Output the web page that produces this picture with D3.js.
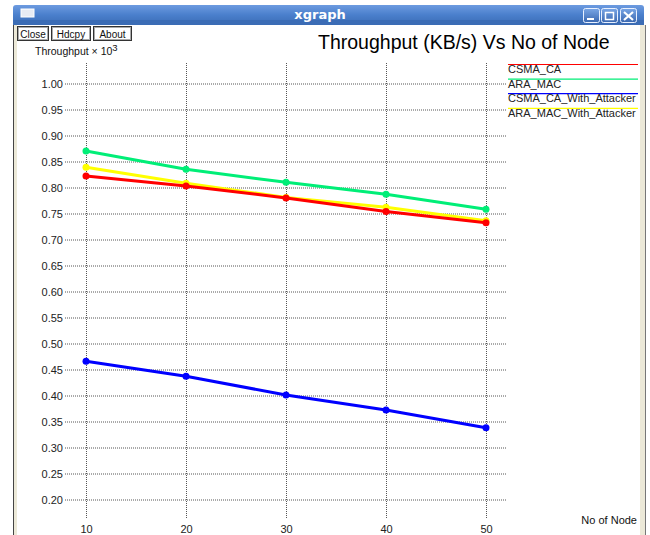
<!DOCTYPE html>
<html><head><meta charset="utf-8">
<script src="https://cdn.jsdelivr.net/npm/d3@7"></script>
<style>
html,body{margin:0;padding:0;background:#fff;}
svg{display:block;font-family:"Liberation Sans",Arial,sans-serif;}
</style></head>
<body>
<svg id="c" width="650" height="535"></svg>
<script>
// ---- data ----
const nodes = [10, 20, 30, 40, 50];
const seriesNames = ["CSMA_CA", "ARA_MAC", "CSMA_CA_With_Attacker", "ARA_MAC_With_Attacker"];
const seriesColors = ["#ff0000", "#00ee77", "#0000ff", "#ffff00"];
const csmaCa = [0.822, 0.803, 0.780, 0.754, 0.732];
const araMac = [0.870, 0.835, 0.810, 0.787, 0.758];
const csmaCaAttacker = [0.466, 0.437, 0.401, 0.372, 0.338];
const araMacAttacker = [0.839, 0.808, 0.781, 0.762, 0.736];
const yTicks = [0.20,0.25,0.30,0.35,0.40,0.45,0.50,0.55,0.60,0.65,0.70,0.75,0.80,0.85,0.90,0.95,1.00];
const xTicks = [10, 20, 30, 40, 50];
const seriesValues = [csmaCa, araMac, csmaCaAttacker, araMacAttacker];
const drawOrder = [1, 3, 0, 2];

const svg = d3.select("#c");

// ---- window chrome ----
const defs = svg.append("defs");
const g1 = defs.append("linearGradient").attr("id","tb").attr("x1",0).attr("y1",0).attr("x2",0).attr("y2",1);
g1.append("stop").attr("offset","0%").attr("stop-color","#6d9be0");
g1.append("stop").attr("offset","50%").attr("stop-color","#4a7fcc");
g1.append("stop").attr("offset","100%").attr("stop-color","#3b6cb5");
const g2 = defs.append("linearGradient").attr("id","bt").attr("x1",0).attr("y1",0).attr("x2",0).attr("y2",1);
g2.append("stop").attr("offset","0%").attr("stop-color","#7aa6e6");
g2.append("stop").attr("offset","100%").attr("stop-color","#3a68b0");

svg.append("rect").attr("x",13).attr("y",5).attr("width",631).attr("height",20).attr("rx",3).attr("fill","url(#tb)");
svg.append("rect").attr("x",13).attr("y",20).attr("width",631).attr("height",5).attr("fill","#3b6cb5");
// left border
svg.append("rect").attr("x",13).attr("y",25).attr("width",4).attr("height",510).attr("fill","#ece9d8");
svg.append("line").attr("x1",13.5).attr("x2",13.5).attr("y1",25).attr("y2",535).attr("stroke","#444");
// right border
svg.append("rect").attr("x",640).attr("y",25).attr("width",5).attr("height",510).attr("fill","#ece9d8");
svg.append("line").attr("x1",645.5).attr("x2",645.5).attr("y1",25).attr("y2",535).attr("stroke","#777");
// icon
svg.append("rect").attr("x",21).attr("y",9).attr("width",13).attr("height",8).attr("fill","#e8ecf4").attr("stroke","#ffffff").attr("stroke-width",1);
// title text
svg.append("text").attr("x",320).attr("y",19).attr("text-anchor","middle").attr("fill","#fff")
  .attr("font-weight","bold").attr("font-size",13).attr("font-family","'DejaVu Sans',sans-serif").text("xgraph");
// window buttons
const wb = [583, 601, 620];
wb.forEach((x,i)=>{
  svg.append("rect").attr("x",x+0.5).attr("y",8.5).attr("width",16).attr("height",14).attr("rx",2)
    .attr("fill","url(#bt)").attr("stroke","#e8f0ff").attr("stroke-width",1);
});
svg.append("line").attr("x1",587).attr("x2",594).attr("y1",19).attr("y2",19).attr("stroke","#fff").attr("stroke-width",2);
svg.append("rect").attr("x",605.5).attr("y",12.5).attr("width",8).attr("height",7).attr("fill","none").attr("stroke","#fff").attr("stroke-width",1.5);
svg.append("path").attr("d","M624,12 L633,20 M633,12 L624,20").attr("stroke","#fff").attr("stroke-width",2.2);

// app buttons
const btns = [["Close",17,31],["Hdcpy",51,39],["About",93,38]];
btns.forEach(([t,x,w])=>{
  svg.append("rect").attr("x",x+0.5).attr("y",26.5).attr("width",w).attr("height",14).attr("fill","#fff").attr("stroke","#333");
  svg.append("rect").attr("x",x+1.5).attr("y",27.5).attr("width",w-2).attr("height",12).attr("fill","none").attr("stroke","#aaa");
  svg.append("text").attr("x",x+w/2+0.5).attr("y",37.5).attr("text-anchor","middle").attr("font-size",10).attr("fill","#111").text(t);
});

// ---- chart ----
const x = d3.scaleLinear().domain([10,50]).range([86,486]);
const y = d3.scaleLinear().domain([0.20,1.00]).range([499.5,83.5]);

const gridStroke = "#555";
const ya = svg.append("g").attr("transform","translate(65,0)")
  .call(d3.axisLeft(y).tickValues(yTicks).tickFormat(d3.format(".2f")).tickSizeInner(-442).tickSizeOuter(0).tickPadding(2));
ya.select(".domain").remove();
ya.selectAll("line").attr("stroke",gridStroke).attr("stroke-dasharray","1,1");
ya.selectAll("text").attr("font-size",11).attr("fill","#222").attr("font-family","'Liberation Sans',Arial,sans-serif");

const xa = svg.append("g").attr("transform","translate(0,518)")
  .call(d3.axisBottom(x).tickValues(xTicks).tickFormat(d3.format("d")).tickSizeInner(-455).tickSizeOuter(0).tickPadding(7));
xa.select(".domain").remove();
xa.selectAll("line").attr("stroke",gridStroke).attr("stroke-dasharray","1,1");
xa.selectAll("text").attr("font-size",11).attr("fill","#222").attr("font-family","'Liberation Sans',Arial,sans-serif");

const line = d3.line().x((d,i)=>x(nodes[i])).y(d=>y(d));
drawOrder.forEach(k=>{
  const vals = seriesValues[k];
  svg.append("path").attr("d",line(vals)).attr("fill","none").attr("stroke",seriesColors[k]).attr("stroke-width",3);
  svg.selectAll(null).data(vals).enter().append("circle")
    .attr("cx",(d,i)=>x(nodes[i])).attr("cy",d=>y(d)).attr("r",3.5).attr("fill",seriesColors[k]);
});

// titles
svg.append("text").attr("x",318).attr("y",49).attr("font-size",19.5).attr("fill","#000").text("Throughput (KB/s) Vs No of Node");
const yl = svg.append("text").attr("x",35).attr("y",55).attr("font-size",10.5).attr("fill","#111");
yl.append("tspan").text("Throughput \u00d7 10");
yl.append("tspan").attr("dy",-4).attr("font-size",9.5).text("3");
svg.append("text").attr("x",637).attr("y",524).attr("text-anchor","end").attr("font-size",11).attr("fill","#111").text("No of Node");

// legend
const ly0 = 64.5, lstep = 14.6;
seriesNames.forEach((n,i)=>{
  const yy = ly0 + i*lstep;
  svg.append("line").attr("x1",508).attr("x2",638).attr("y1",yy).attr("y2",yy).attr("stroke",seriesColors[i]).attr("stroke-width",1.2);
  svg.append("text").attr("x",508).attr("y",yy+8.5).attr("font-size",11).attr("fill","#222").text(n);
});
</script>
</body></html>
